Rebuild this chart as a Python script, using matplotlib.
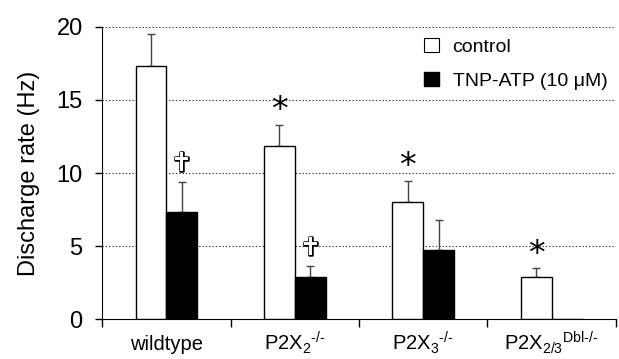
import numpy as np
import matplotlib
matplotlib.use("Agg")
import matplotlib.pyplot as plt
import matplotlib.patheffects as pe

plt.rcParams['font.family'] = ['Liberation Sans', 'DejaVu Sans']
plt.rcParams['mathtext.fontset'] = 'custom'
plt.rcParams['mathtext.rm'] = 'Liberation Sans'
plt.rcParams['mathtext.it'] = 'Liberation Sans'
plt.rcParams['mathtext.default'] = 'regular'

# data
groups = ['wildtype', r'P2X$_2$$^{\text{-/-}}$', r'P2X$_3$$^{\text{-/-}}$',
          r'P2X$_{2/3}$$^{\text{Dbl-/-}}$']
control = [17.35, 11.85, 8.0, 2.9]
control_err = [2.15, 1.45, 1.47, 0.6]
tnp = [7.35, 2.9, 4.7, 0.0]
tnp_err = [2.05, 0.7, 2.05, 0.0]
star_on_control = [False, True, True, True]
cross_on_tnp = [True, True, False, False]

fig = plt.figure(figsize=(6.19, 3.59), dpi=100)
ax = fig.add_axes([0.165, 0.1114, 0.83, 0.8134])

x = np.arange(1, len(groups) + 1)
w = 0.24
ax.bar(x - w / 2, control, w, color='white', edgecolor='black', linewidth=1.0, zorder=3)
ax.bar(x + w / 2, tnp, w, color='black', edgecolor='black', linewidth=1.0, zorder=3)

err_kw = dict(fmt='none', ecolor='#444444', elinewidth=1.0, capsize=3, capthick=1.0, zorder=2)
ax.errorbar(x - w / 2, control, yerr=[np.zeros(len(x)), control_err], **err_kw)
tx = [xi + w / 2 for xi, t in zip(x, tnp) if t > 0]
ty = [t for t in tnp if t > 0]
te = [e for t, e in zip(tnp, tnp_err) if t > 0]
ax.errorbar(tx, ty, yerr=[np.zeros(len(tx)), te], **err_kw)

for i in range(len(groups)):
    if star_on_control[i]:
        ax.text(x[i] - w / 2, control[i] + control_err[i] + 0.95, '*', ha='center', va='center',
                fontsize=24, fontfamily='DejaVu Sans', zorder=4)
    if cross_on_tnp[i]:
        ax.text(x[i] + w / 2, tnp[i] + tnp_err[i] + 1.25, '\u271D', ha='center', va='center',
                fontsize=18, color='white', fontfamily='DejaVu Sans', zorder=4,
                path_effects=[pe.withStroke(linewidth=1.8, foreground='black')])

ax.set_xlim(0.5, 4.5)
ax.set_ylim(0, 20)
ax.set_yticks([0, 5, 10, 15, 20])
ax.tick_params(axis='y', labelsize=17, direction='out', length=5, width=1, pad=9)
for yv in [5, 10, 15, 20]:
    ax.axhline(yv, color='#333333', linestyle=(0, (1.2, 1.8)), linewidth=0.8, zorder=1)

ax.set_xticks([0.5, 1.5, 2.5, 3.5, 4.5])
ax.set_xticklabels([])
ax.tick_params(axis='x', direction='out', length=6, width=1)
for xi, g in zip(x, groups):
    ax.text(xi, -2.15, g, ha='center', va='baseline', fontsize=14.5)

ax.spines['top'].set_visible(False)
ax.spines['right'].set_visible(False)
ax.set_ylabel('Discharge rate (Hz)', fontsize=17, labelpad=12)

# legend
ax.bar([0], [0], color='white', edgecolor='black', linewidth=0.8, label='control')
ax.bar([0], [0], color='black', edgecolor='black', label='TNP-ATP (10 \u03bcM)')
handles, labels = ax.get_legend_handles_labels()
ax.legend(handles, labels, loc='upper left', bbox_to_anchor=(0.612, 0.99), frameon=False,
          fontsize=14, handlelength=0.75, handleheight=0.75, handletextpad=0.7,
          labelspacing=0.85, borderaxespad=0)

fig.savefig('out.png', dpi=100)
